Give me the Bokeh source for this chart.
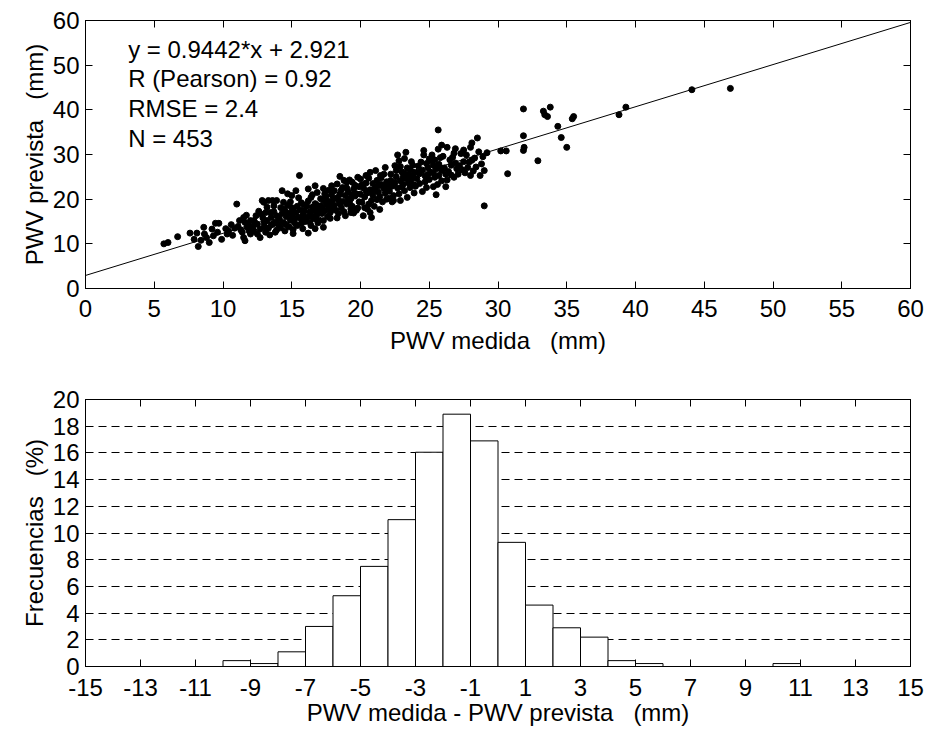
from bokeh.plotting import figure
from bokeh.models import Range1d, FixedTicker, LinearAxis, Label, Slope
from bokeh.layouts import column
from bokeh.embed import file_html
from bokeh.resources import INLINE

FONT = "Liberation Sans"
FS = "24px"
GAP = " \u00a0\u00a0"  # wide gap before the units, as in the original labels

# ---------------- scatter data (PWV medida, PWV prevista) -----
medida_a = [5.7, 6.0, 6.7, 7.6, 8.1, 8.2, 8.6, 8.65, 8.8, 9.0, 9.2, 9.45, 9.7, 9.6, 9.9, 8.4, 9.3, 7.9]
prevista_a = [10.0, 10.3, 11.6, 12.4, 12.4, 9.4, 13.7, 12.2, 11.4, 10.3, 13.3, 14.6, 14.6, 12.6, 11.0, 10.8, 11.8, 11.0]

medida_b = [10.3, 10.4, 11.0, 10.85, 11.1, 11.5, 11.6, 11.75, 11.4, 11.5, 11.6, 10.6, 10.2, 11.2, 11.9, 11.3,
            10.7, 11.8, 12.0, 12.0, 11.9, 11.7]
prevista_b = [12.2, 12.9, 18.9, 13.5, 13.9, 15.9, 14.8, 13.7, 12.6, 11.4, 10.7, 14.3, 13.4, 15.2, 12.9, 13.1,
              11.9, 14.4, 15.2, 12.2, 13.6, 16.4]

medida_c = [12.25, 12.5, 12.7, 12.7, 12.85, 12.97, 13.3, 13.6, 13.2, 13.1, 13.45, 13.7, 12.25, 12.5, 13.2, 13.6,
            12.4, 12.9, 13.0, 13.3, 13.5, 13.8, 13.9, 12.6, 13.1, 13.4, 13.9, 12.2, 12.8, 13.7, 13.0, 13.5, 12.3, 13.8]
prevista_c = [15.2, 14.4, 13.3, 11.4, 19.7, 19.3, 19.7, 19.7, 18.2, 17.0, 17.0, 17.2, 12.9, 12.2, 15.2, 14.4,
              16.3, 15.8, 14.6, 13.5, 15.9, 14.9, 16.3, 17.3, 12.6, 12.0, 13.1, 13.9, 16.6, 18.5, 13.8, 14.2, 14.8, 12.6]

medida_d = [14.3, 14.7, 15.0, 15.3, 13.9, 14.4, 15.56, 14.2, 14.5, 14.8, 15.1, 15.4, 15.7, 15.9, 14.1, 14.4,
            14.6, 14.9, 15.2, 15.5, 15.8, 14.2, 14.5, 14.8, 15.1, 15.4, 15.7, 15.9, 14.3, 14.7, 15.0, 15.3,
            15.6, 15.9, 14.0, 14.6, 15.2, 15.8, 14.9, 15.5, 15.1, 14.4, 15.7, 15.0]
prevista_d = [21.9, 21.2, 20.8, 21.9, 19.7, 19.3, 25.3, 18.1, 17.4, 16.9, 17.8, 18.4, 19.2, 17.3, 15.6, 14.8,
              16.1, 15.3, 14.7, 15.9, 16.4, 13.6, 12.9, 13.8, 13.2, 14.1, 14.6, 15.1, 16.8, 18.6, 16.5, 16.9,
              17.6, 18.7, 14.4, 14.3, 15.6, 13.4, 19.4, 20.3, 12.3, 17.8, 15.6, 18.1]

medida_e = [16.2, 16.7, 16.85, 16.2, 16.4, 17.3, 17.3, 16.1, 16.3, 16.5, 16.7, 16.9, 17.1, 17.3, 17.5, 17.7,
            17.9, 16.2, 16.4, 16.6, 16.8, 17.0, 17.2, 17.4, 17.6, 17.8, 16.0, 16.3, 16.6, 16.9, 17.1, 17.4,
            17.7, 17.9, 16.5, 17.2, 17.5, 17.8, 16.1, 16.8, 17.0, 17.6, 17.9, 16.4, 17.3, 16.7]
prevista_e = [22.3, 23.0, 21.5, 12.4, 14.1, 15.2, 13.7, 16.0, 17.1, 18.2, 19.0, 17.6, 18.5, 19.8, 20.6, 18.1,
              19.2, 19.6, 20.4, 15.6, 16.4, 15.3, 16.8, 17.4, 16.1, 17.0, 15.0, 14.9, 17.4, 14.7, 20.1, 21.2,
              22.0, 21.0, 21.0, 17.9, 18.8, 15.7, 18.4, 18.7, 16.9, 19.6, 17.8, 16.3, 22.4, 13.4]

medida_f = [17.9, 18.3, 18.7, 19.0, 19.4, 19.8, 18.5, 18.4, 19.3, 19.3, 18.1, 18.3, 18.5, 18.7, 18.9, 19.1,
            19.3, 19.5, 19.7, 19.9, 18.2, 18.4, 18.6, 18.8, 19.0, 19.2, 19.4, 19.6, 19.8, 18.1, 18.6, 19.0,
            19.6, 18.9, 19.5, 18.3, 19.2, 19.9, 18.8, 18.0, 19.7, 18.5, 19.1, 19.4]
prevista_f = [23.0, 23.4, 22.6, 23.8, 23.8, 24.9, 25.1, 19.7, 17.8, 17.0, 18.6, 20.3, 21.1, 19.5, 20.8, 21.6,
              20.1, 22.3, 21.2, 19.4, 17.5, 16.8, 18.1, 17.2, 18.9, 19.2, 18.4, 20.7, 18.0, 21.9, 22.0, 22.5,
              23.1, 16.3, 16.9, 15.8, 24.3, 22.8, 24.2, 20.0, 17.5, 19.0, 20.0, 21.0]

medida_g = [20.0, 20.4, 20.7, 21.1, 21.45, 21.8, 20.2, 20.5, 20.7, 21.9, 20.1, 20.3, 20.5, 20.7, 20.9, 21.1,
            21.3, 21.5, 21.7, 21.9, 20.2, 20.4, 20.6, 20.8, 21.0, 21.2, 21.4, 21.6, 21.8, 20.0, 20.3, 20.9,
            21.2, 21.5, 21.7, 20.6, 21.0, 21.4, 21.9, 20.1, 20.8, 21.6, 20.4, 21.3]
prevista_g = [24.5, 25.3, 26.0, 26.4, 25.3, 27.1, 16.3, 17.8, 17.0, 20.0, 19.3, 20.5, 21.4, 22.1, 20.9, 22.7,
              21.6, 23.3, 22.4, 23.9, 22.6, 23.6, 18.9, 19.7, 18.4, 19.9, 20.6, 19.4, 21.3, 21.1, 18.1, 23.5,
              24.2, 24.8, 25.6, 24.7, 21.8, 17.7, 22.0, 23.2, 15.9, 23.0, 21.9, 23.0]

medida_h = [22.2, 22.5, 22.8, 22.4, 22.3, 22.9, 23.3, 22.7, 23.2, 23.9, 22.1, 22.3, 22.5, 22.7, 22.9, 23.1,
            23.3, 23.5, 23.7, 23.9, 22.2, 22.6, 23.0, 23.4, 23.8, 22.4, 22.8, 23.2, 23.6, 22.0, 23.0, 23.5,
            23.9, 22.6, 23.2, 23.7, 22.1, 23.4, 23.8, 22.9, 23.1, 23.6]
prevista_h = [25.6, 27.5, 28.6, 19.7, 19.4, 19.7, 30.5, 29.9, 29.1, 21.4, 21.8, 22.9, 23.7, 22.5, 24.1, 23.3,
              24.6, 25.4, 24.4, 26.0, 24.2, 25.0, 26.1, 27.0, 27.6, 20.8, 21.2, 21.9, 22.6, 23.0, 22.7, 23.6,
              23.2, 26.4, 25.8, 28.4, 20.2, 20.4, 25.1, 27.3, 24.9, 26.6]

medida_i = [24.5, 24.6, 24.6, 25.2, 25.1, 25.65, 25.9, 25.65, 25.3, 25.5, 24.1, 24.3, 24.5, 24.7, 24.9, 25.1,
            25.3, 25.5, 25.7, 25.9, 24.2, 24.4, 24.8, 25.0, 25.4, 25.8, 24.0, 24.3, 24.7, 25.0, 25.4, 25.7,
            25.9, 24.8, 25.6, 24.2, 24.9, 25.3, 25.8]
prevista_i = [21.7, 30.9, 29.9, 29.9, 28.6, 35.5, 32.1, 31.2, 22.8, 21.0, 24.6, 25.7, 26.5, 25.2, 27.1, 26.0,
              27.6, 26.8, 27.8, 26.4, 27.4, 28.3, 28.0, 29.0, 28.8, 29.3, 22.9, 23.5, 23.9, 24.4, 24.9, 25.3,
              24.1, 22.6, 23.3, 26.1, 25.5, 25.9, 27.0]

medida_j = [26.3, 26.9, 26.8, 26.7, 26.5, 27.7, 27.9, 27.0, 27.4, 26.6, 26.8, 26.2, 28.0, 28.1, 28.0, 26.1,
            26.4, 26.6, 26.9, 27.2, 27.5, 27.8, 26.3, 27.1, 27.6, 26.0, 27.3, 27.5, 26.2]
prevista_j = [31.6, 31.3, 30.3, 29.4, 28.8, 29.9, 28.3, 26.8, 26.6, 25.4, 24.9, 22.8, 25.3, 32.6, 31.6, 27.0,
              26.2, 27.6, 28.1, 27.5, 28.4, 27.1, 24.3, 25.6, 25.9, 29.6, 30.2, 31.0, 25.6]

medida_k = [28.5, 29.2, 28.8, 29.0, 28.7, 29.0, 28.3, 28.6, 28.9, 28.4, 28.2, 28.1]
prevista_k = [33.7, 30.4, 27.9, 26.4, 25.3, 18.5, 29.2, 30.6, 29.5, 27.2, 26.3, 28.7]

medida_l = [30.2, 30.6, 30.7, 31.85, 33.3, 33.4, 33.6, 33.8, 35.5, 35.4, 34.35, 34.6, 35.0, 32.9, 31.85, 31.9,
            31.85, 38.8, 39.3, 44.1, 46.9]
prevista_l = [30.8, 30.8, 25.7, 40.2, 39.7, 38.9, 38.5, 40.6, 38.5, 38.0, 36.3, 33.8, 31.6, 28.6, 34.2, 31.6,
              30.9, 38.9, 40.6, 44.5, 44.8]

pwv_medida = (medida_a + medida_b + medida_c + medida_d + medida_e + medida_f + medida_g + medida_h
              + medida_i + medida_j + medida_k + medida_l)
pwv_prevista = (prevista_a + prevista_b + prevista_c + prevista_d + prevista_e + prevista_f + prevista_g
                + prevista_h + prevista_i + prevista_j + prevista_k + prevista_l)

fit_slope = 0.9442
fit_intercept = 2.921
stats_lines = ["y = 0.9442*x + 2.921", "R (Pearson) = 0.92", "RMSE = 2.4", "N = 453"]

scatter_x_ticks = [0, 5, 10, 15, 20, 25, 30, 35, 40, 45, 50, 55, 60]
scatter_y_ticks = [0, 10, 20, 30, 40, 50, 60]

# ---------------- histogram data ------------------------------------------------------
bin_left = [-10, -9, -8, -7, -6, -5, -4, -3, -2, -1, 0, 1, 2, 3, 4, 5, 10]
bin_width = 1
frecuencia = [0.44, 0.22, 1.1, 3.0, 5.3, 7.5, 11.0, 16.05, 18.9, 16.9, 9.3, 4.6, 2.9, 2.2, 0.44, 0.22, 0.22]
hist_x_ticks = [-15, -13, -11, -9, -7, -5, -3, -1, 1, 3, 5, 7, 9, 11, 13, 15]
hist_x_labels = ["-15", "-13", "-11", "-9", "-7", "-5", "-3", "-1", "1", "3", "5", "7", "9", "11", "13", "15"]
hist_y_ticks = [0, 2, 4, 6, 8, 10, 12, 14, 16, 18, 20]


def style_axis(ax, ticks, show_labels=True, overrides=None, standoff=6):
    ax.ticker = FixedTicker(ticks=ticks)
    ax.major_tick_in = 7
    ax.major_tick_out = 0
    ax.minor_tick_line_color = None
    ax.axis_line_color = "black"
    ax.axis_line_width = 1
    ax.major_tick_line_color = "black"
    ax.major_tick_line_width = 1
    ax.major_label_text_font = FONT
    ax.major_label_text_color = "black"
    ax.axis_label_text_font = FONT
    ax.axis_label_text_font_size = FS
    ax.axis_label_text_font_style = "normal"
    ax.axis_label_text_color = "black"
    if show_labels:
        ax.major_label_text_font_size = FS
        ax.major_label_standoff = standoff
        if overrides:
            ax.major_label_overrides = overrides
    else:
        ax.major_label_text_font_size = "0px"
        ax.major_label_standoff = 0
        ax.major_label_overrides = {t: "" for t in ticks}


def base_figure(xr, yr, xlabel, ylabel, top_border, frame_h):
    p = figure(frame_width=825, frame_height=frame_h, x_range=xr, y_range=yr,
               output_backend="svg", toolbar_location=None,
               x_axis_label=xlabel, y_axis_label=ylabel,
               min_border_left=85, min_border_right=15, min_border_top=top_border,
               min_border_bottom=0)
    p.outline_line_color = "black"
    p.outline_line_width = 1
    p.background_fill_color = "white"
    p.border_fill_color = "white"
    p.add_layout(LinearAxis(), "above")
    p.add_layout(LinearAxis(), "right")
    return p


# ---------------- top: scatter ---------------------------------------------------------
p1 = base_figure(Range1d(0, 60), Range1d(0, 60), "PWV medida" + GAP + "(mm)",
                 "PWV prevista" + GAP + "(mm)", 20, 268)
p1.grid.visible = False
style_axis(p1.below[0], scatter_x_ticks, standoff=11)
style_axis(p1.left[0], scatter_y_ticks, standoff=6)
style_axis(p1.above[0], scatter_x_ticks, show_labels=False)
style_axis(p1.right[0], scatter_y_ticks, show_labels=False)
p1.below[0].axis_label_standoff = 7
p1.left[0].axis_label_standoff = 2

p1.add_layout(Slope(gradient=fit_slope, y_intercept=fit_intercept, line_color="black", line_width=1))
p1.scatter(pwv_medida, pwv_prevista, size=6, color="black")

for i, txt in enumerate(stats_lines):
    p1.add_layout(Label(x=3.1, y=53.6 - 6.65 * i, text=txt, text_font=FONT, text_font_size=FS,
                        text_color="black", text_baseline="alphabetic"))

# ---------------- bottom: histogram ----------------------------------------------------
p2 = base_figure(Range1d(-15, 15), Range1d(0, 20), "PWV medida - PWV prevista" + GAP + "(mm)",
                 "Frecuencias" + GAP + "(%)", 43, 267)
p2.xgrid.visible = False
p2.ygrid.ticker = FixedTicker(ticks=hist_y_ticks)
p2.ygrid.grid_line_color = "black"
p2.ygrid.grid_line_width = 1
p2.ygrid.grid_line_dash = "8 5"
style_axis(p2.below[0], hist_x_ticks, overrides=dict(zip(hist_x_ticks, hist_x_labels)), standoff=12)
style_axis(p2.left[0], hist_y_ticks, standoff=6)
style_axis(p2.above[0], hist_x_ticks, show_labels=False)
style_axis(p2.right[0], hist_y_ticks, show_labels=False)
p2.below[0].axis_label_standoff = 0
p2.left[0].axis_label_standoff = 2

bin_right = [b + bin_width for b in bin_left]
p2.quad(left=bin_left, right=bin_right, bottom=0, top=frecuencia,
        fill_color="white", line_color="black", line_width=1)

layout = column(p1, p2, spacing=0)
open("out.html", "w").write(file_html(layout, INLINE))
